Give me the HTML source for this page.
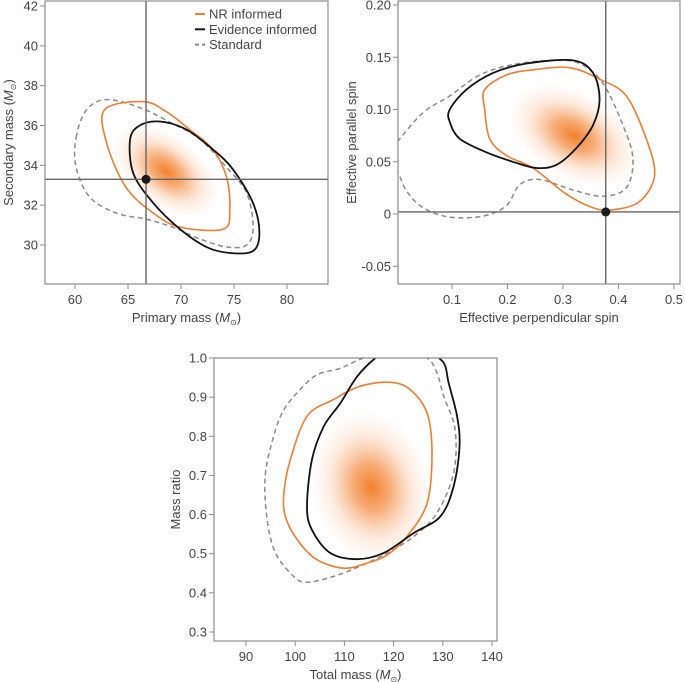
<!DOCTYPE html>
<html><head><meta charset="utf-8">
<style>
html,body{margin:0;padding:0;background:#fff;}
svg{display:block;font-family:"Liberation Sans",sans-serif;}
</style></head>
<body>
<svg id="fig" width="685" height="682" viewBox="0 0 685 682" xmlns="http://www.w3.org/2000/svg"><defs><radialGradient id="heat" cx="0.5" cy="0.5" r="0.5"><stop offset="0" stop-color="#f07a22" stop-opacity="0.95"/><stop offset="0.3" stop-color="#f3883a" stop-opacity="0.7"/><stop offset="0.65" stop-color="#f5a46a" stop-opacity="0.25"/><stop offset="1" stop-color="#f8c8a0" stop-opacity="0"/></radialGradient></defs></svg>
<script>
// ---- Panel 1: primary vs secondary mass ----
const p1XTicks=[60,65,70,75,80];
const p1YTicks=[30,32,34,36,38,40,42];
const p1Truth=[66.7,33.3];
const p1Peak=[68.6,33.7];
const p1NRx=[62.8,66.4,68.6,70.8,73.0,74.3,74.6,74.0,69.9,67.4,64.8,63.0];
const p1NRy=[36.8,37.2,36.7,35.8,34.8,33.4,31.8,30.8,30.9,31.6,32.9,35.1];
const p1EVx=[65.2,66.1,68.0,70.5,73.0,74.9,76.8,77.4,76.8,74.6,72.4,69.9,67.4,65.5];
const p1EVy=[35.3,36.0,36.2,35.8,34.8,33.8,32.1,30.6,29.7,29.6,29.9,30.8,32.1,33.6];
const p1STx=[60.1,61.1,63.0,66.1,69.2,71.8,74.3,76.2,76.8,76.2,74.3,71.8,69.2,66.7,63.9,61.4,60.1];
const p1STy=[35.4,36.8,37.3,36.9,36.1,35.3,33.9,32.6,30.9,30.0,29.9,30.3,30.9,31.3,31.6,32.4,33.9];
// ---- Panel 2: spins ----
const p2XTicks=[0.1,0.2,0.3,0.4,0.5];
const p2YTicks=[-0.05,0,0.05,0.10,0.15,0.20];
const p2YLabels=["-0.05","0","0.05","0.10","0.15","0.20"];
const p2Truth=[0.377,0.002];
const p2Peak=[0.32,0.075];
const p2NRx=[0.159,0.198,0.246,0.312,0.366,0.414,0.450,0.465,0.438,0.390,0.354,0.306,0.246,0.198,0.168,0.159];
const p2NRy=[0.119,0.133,0.138,0.140,0.129,0.113,0.072,0.037,0.012,0.004,0.006,0.019,0.044,0.056,0.072,0.100];
const p2EVx=[0.096,0.126,0.174,0.234,0.318,0.354,0.366,0.354,0.324,0.288,0.252,0.210,0.162,0.114,0.096];
const p2EVy=[0.100,0.119,0.135,0.144,0.147,0.135,0.110,0.085,0.063,0.047,0.044,0.050,0.059,0.072,0.088];
const p2STx=[0.0015,0.048,0.096,0.150,0.210,0.282,0.330,0.372,0.408,0.426,0.414,0.372,0.318,0.258,0.222,0.198,0.156,0.096,0.048,0.018,0.0015,-0.018];
const p2STy=[0.069,0.097,0.113,0.133,0.143,0.147,0.144,0.125,0.085,0.053,0.025,0.017,0.023,0.033,0.028,0.008,-0.002,-0.003,0.006,0.022,0.041,0.055];
// ---- Panel 3: total mass vs mass ratio ----
const p3XTicks=[90,100,110,120,130,140];
const p3YTicks=[0.3,0.4,0.5,0.6,0.7,0.8,0.9,1.0];
const p3Peak=[115.5,0.67];
const p3NRx=[97.7,99.0,102.4,107.8,113.2,119.3,123.4,126.8,127.8,126.8,122.7,118.7,114.6,109.9,104.4,100.4,98.0];
const p3NRy=[0.655,0.740,0.851,0.894,0.928,0.938,0.919,0.859,0.757,0.629,0.544,0.497,0.476,0.463,0.485,0.536,0.595];
const p3EVx=[116.3,112.6,109.2,105.8,103.4,102.4,103.4,107.1,112.6,118.0,124.1,129.5,132.2,133.4,132.9,131.2,130.5,129.2,125.4,120.0];
const p3EVy=[1.0,0.953,0.885,0.825,0.740,0.621,0.561,0.502,0.486,0.502,0.553,0.595,0.672,0.774,0.851,0.936,0.979,1.0,1.03,1.03];
const p3STx=[113.9,109.2,104.4,101.0,97.7,95.6,93.9,94.3,96.0,99.7,102.4,107.8,113.2,118.7,124.1,128.8,132.2,132.5,130.2,128.8,126.8,121.4];
const p3STy=[1.0,0.974,0.957,0.919,0.868,0.800,0.698,0.587,0.502,0.442,0.427,0.442,0.468,0.502,0.544,0.604,0.706,0.817,0.902,0.962,1.0,1.025];

const NS="http://www.w3.org/2000/svg";
const svg=document.getElementById('fig');
function mk(tag,attrs,parent){const e=document.createElementNS(NS,tag);for(const k in attrs)e.setAttribute(k,attrs[k]);(parent||svg).appendChild(e);return e;}
function smoothPath(xs,ys,sx,sy){
  const n=xs.length;const P=[];for(let i=0;i<n;i++)P.push([sx(xs[i]),sy(ys[i])]);
  let d=`M${P[0][0].toFixed(1)},${P[0][1].toFixed(1)}`;
  for(let i=0;i<n;i++){const p0=P[(i-1+n)%n],p1=P[i],p2=P[(i+1)%n],p3=P[(i+2)%n];
    const c1=[p1[0]+(p2[0]-p0[0])/6,p1[1]+(p2[1]-p0[1])/6],c2=[p2[0]-(p3[0]-p1[0])/6,p2[1]-(p3[1]-p1[1])/6];
    d+=`C${c1[0].toFixed(1)},${c1[1].toFixed(1)} ${c2[0].toFixed(1)},${c2[1].toFixed(1)} ${p2[0].toFixed(1)},${p2[1].toFixed(1)}`;}
  return d+'Z';
}
// o.xa=[d0,d1,px0,px1], o.ya likewise (tick-anchored linear scales)
function panel(o){
  const g=mk('g',{});
  
  
  const sx=v=>o.xa[2]+(v-o.xa[0])*(o.xa[3]-o.xa[2])/(o.xa[1]-o.xa[0]);
  const sy=v=>o.ya[2]+(v-o.ya[0])*(o.ya[3]-o.ya[2])/(o.ya[1]-o.ya[0]);
  const cid='clip-'+o.name;
  const cp=mk('clipPath',{id:cid},g);mk('rect',{x:o.L,y:o.T,width:o.R-o.L,height:o.B-o.T},cp);
  const inner=mk('g',{'clip-path':`url(#${cid})`},g);
  const hx=sx(o.peak[0]),hy=sy(o.peak[1]);
  const heat=mk('ellipse',{cx:hx,cy:hy,rx:o.heat[0],ry:o.heat[1],fill:'url(#heat)',transform:`rotate(${o.heat[2]} ${hx} ${hy})`},inner);
  
  
  const cs=[['standard-contour',o.st,'#8a8a8a','5 3.5',1.5],['nr-informed-contour',o.nr,'#ef7d33','',1.6],['evidence-informed-contour',o.ev,'#111','',1.8]];
  cs.forEach(c=>{const p=mk('path',{d:smoothPath(c[1][0],c[1][1],sx,sy),fill:'none',stroke:c[2],'stroke-width':c[4],'stroke-dasharray':c[3]},inner);
    
    });
  if(o.truth){
    const tx=sx(o.truth[0]),ty=sy(o.truth[1]);
    const v=mk('line',{x1:tx,x2:tx,y1:o.T,y2:o.B,stroke:'#666','stroke-width':1.4},inner);
    
    
    const h=mk('line',{x1:o.L,x2:o.R,y1:ty,y2:ty,stroke:'#666','stroke-width':1.4},inner);
    
    
    const dot=mk('circle',{cx:tx,cy:ty,r:4.5,fill:'#1a1a1a'},g);
    
    
  }
  const fr=mk('rect',{x:o.L,y:o.T,width:o.R-o.L,height:o.B-o.T,fill:'none',stroke:'#8c8c8c','stroke-width':1.2},g);
  
  
  o.xt.forEach((t,i)=>{const x=sx(t);mk('line',{x1:x,x2:x,y1:o.B,y2:o.B+5,stroke:'#8c8c8c'},g);
    const tl=mk('text',{x:x,y:o.B+20,'text-anchor':'middle','font-size':13,fill:'#444'},g);tl.textContent=o.xl?o.xl[i]:String(t);
    
    });
  o.yt.forEach((t,i)=>{const y=sy(t);mk('line',{x1:o.L-5,x2:o.L,y1:y,y2:y,stroke:'#8c8c8c'},g);
    const tl=mk('text',{x:o.L-7,y:y+4.5,'text-anchor':'end','font-size':13,fill:'#444'},g);tl.textContent=o.yl?o.yl[i]:String(t);
    
    });
  const xa=mk('text',{x:(o.L+o.R)/2,y:o.B+38,'text-anchor':'middle','font-size':13,fill:'#444'},g);
  xa.innerHTML=o.xtitle;
  
  
  const yx=o.yTitleX,yy=(o.T+o.B)/2;
  const ya=mk('text',{x:yx,y:yy,'text-anchor':'middle','font-size':13,fill:'#444',transform:`rotate(-90 ${yx} ${yy})`},g);
  ya.innerHTML=o.ytitle;
  
  
  return g;
}
const MS='(<tspan font-style="italic">M</tspan><tspan font-size="8" dy="3">⊙</tspan><tspan dy="-3">)</tspan>';
panel({name:'mass-panel',L:45,R:328,T:1,B:284,xa:[60,80,75,287],ya:[30,42,245,6],
  peak:p1Peak,heat:[62,36,38],truth:p1Truth,
  nr:[p1NRx,p1NRy],ev:[p1EVx,p1EVy],st:[p1STx,p1STy],
  xt:p1XTicks,yt:p1YTicks,xtitle:'Primary mass '+MS,ytitle:'Secondary mass '+MS,yTitleX:13});
panel({name:'spin-panel',L:398,R:680,T:1,B:284,xa:[0.1,0.5,452,674],ya:[0,0.2,214,5],
  peak:p2Peak,heat:[72,44,30],truth:p2Truth,
  nr:[p2NRx,p2NRy],ev:[p2EVx,p2EVy],st:[p2STx,p2STy],
  xt:p2XTicks,yt:p2YTicks,yl:p2YLabels,xtitle:'Effective perpendicular spin',ytitle:'Effective parallel spin',yTitleX:356});
panel({name:'total-mass-panel',L:214,R:497,T:358,B:641,xa:[90,140,246,492],ya:[0.3,1.0,632,358],
  peak:p3Peak,heat:[78,60,75],truth:null,
  nr:[p3NRx,p3NRy],ev:[p3EVx,p3EVy],st:[p3STx,p3STy],
  xt:p3XTicks,yt:p3YTicks,yl:p3YTicks.map(v=>v.toFixed(1)),xtitle:'Total mass '+MS,ytitle:'Mass ratio',yTitleX:180});
// legend
const lg=mk('g',{});


const entries=[['NR informed','#ef7d33',''],['Evidence informed','#111',''],['Standard','#8a8a8a','4 3']];
entries.forEach((e,i)=>{const y=14+i*15.3;
  const ln=mk('line',{x1:195,x2:205,y1:y,y2:y,stroke:e[1],'stroke-width':2,'stroke-dasharray':e[2]},lg);
  
  
  const t=mk('text',{x:209,y:y+4.5,'font-size':13,fill:'#444'},lg);t.textContent=e[0];
  
  });
</script>
</body></html>
